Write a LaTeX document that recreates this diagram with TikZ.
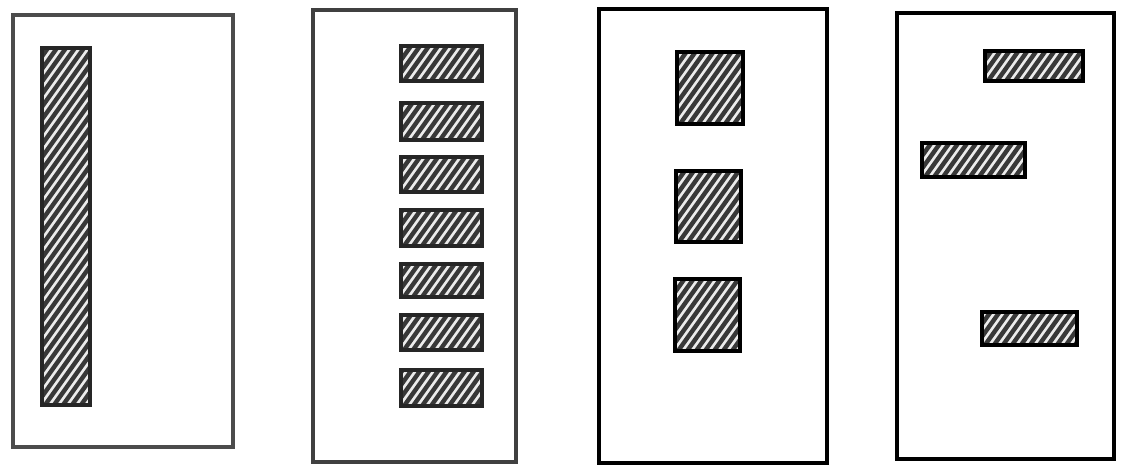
\documentclass[tikz,border=0pt]{standalone}
\usetikzlibrary{fit}
\tikzset{
  frame/.style={draw=#1, line width=3.6pt, inner sep=0pt, fill=none},
  frame/.default=black,
  hatchbox/.style={draw=black, line width=3.4pt, inner sep=0pt, fill=gray!15,
    path picture={
      \foreach \i in {-420,-411,...,140}
        \draw[black!78, line width=4.4pt]
          ([xshift=\i pt]path picture bounding box.south west) -- ++(300pt,420pt);
    }},
  hatchboxdark/.style={hatchbox, draw=black, line width=4.4pt}
}
\begin{document}
\begin{tikzpicture}[x=1pt,y=-1pt]
\useasboundingbox[fill=white] (0,0) rectangle (1129,471);
% panel 1
\node[frame=black!70, fit={(13,15) (233,447)}] (p1) {};
\node[hatchbox, draw=black!85, fit={(42,48) (90,405)}] (p1a) {};
% panel 2
\node[frame=black!75, fit={(313,10) (516,462)}] (p2) {};
\foreach \t/\b [count=\k] in {46/81, 103/140, 157/192, 210/246, 264/297, 315/350, 370/406}
  \node[hatchbox, draw=black!85, fit={(401,\t) (482,\b)}] (p2b\k) {};
% panel 3
\node[frame, fit={(599,9) (827,463)}] (p3) {};
\node[hatchboxdark, fit={(677,52) (743,124)}] (p3a) {};
\node[hatchboxdark, fit={(676,171) (741,242)}] (p3b) {};
\node[hatchboxdark, fit={(675,279) (740,351)}] (p3c) {};
% panel 4
\node[frame, fit={(897,13) (1114,459)}] (p4) {};
\node[hatchboxdark, fit={(985,51) (1083,81)}] (p4a) {};
\node[hatchboxdark, fit={(922,143) (1025,177)}] (p4b) {};
\node[hatchboxdark, fit={(982,312) (1077,345)}] (p4c) {};
\end{tikzpicture}
\end{document}
